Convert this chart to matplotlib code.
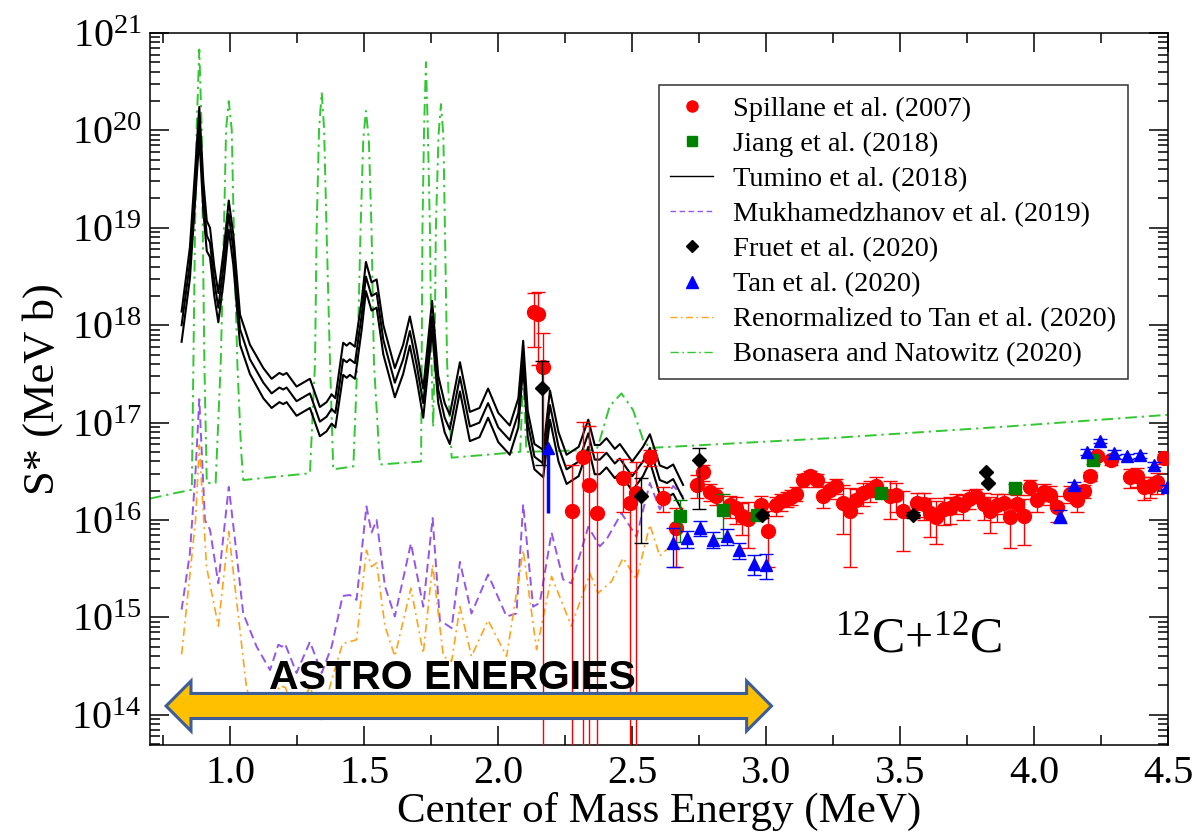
import numpy as np
import matplotlib
matplotlib.use('Agg')
import matplotlib.pyplot as plt
from matplotlib.lines import Line2D
from matplotlib.patches import Polygon
from matplotlib.ticker import FixedLocator, LogLocator, NullFormatter
from matplotlib.transforms import blended_transform_factory

# ---- data ----
# Tumino et al. (2018): central curve and upper / lower bounds, log10(S* / MeV b)
tum_e = [0.818, 0.849, 0.870, 0.884, 0.899, 0.912, 0.924, 0.940, 0.955, 0.976,
         0.994, 1.011, 1.036, 1.073, 1.123, 1.154, 1.183, 1.197, 1.210, 1.247,
         1.297, 1.334, 1.359, 1.378, 1.392, 1.421, 1.434, 1.446, 1.465, 1.490,
         1.506, 1.527, 1.546, 1.571, 1.614, 1.645, 1.670, 1.695, 1.720, 1.753,
         1.776, 1.800, 1.819, 1.857, 1.894, 1.930, 1.962, 2.000, 2.043, 2.075,
         2.093, 2.110, 2.135, 2.168, 2.193, 2.225, 2.255, 2.300, 2.336, 2.360,
         2.379, 2.404, 2.435, 2.454, 2.500, 2.540, 2.566, 2.603, 2.630, 2.653,
         2.690]
tum_mid = [18.00, 18.64, 19.50, 20.08, 19.33, 18.92, 18.85, 18.45, 18.18, 18.64,
           19.14, 18.78, 17.96, 17.65, 17.41, 17.30, 17.36, 17.34, 17.36, 17.22,
           17.30, 17.01, 17.06, 17.14, 17.10, 17.65, 17.62, 17.65, 17.61, 18.10,
           18.50, 18.30, 18.33, 17.85, 17.41, 17.65, 17.94, 17.60, 17.20, 18.09,
           17.34, 17.05, 16.93, 17.47, 16.96, 17.00, 17.20, 16.95, 16.82, 17.10,
           17.70, 17.00, 16.65, 16.58, 17.18, 16.75, 16.52, 16.60, 16.89, 16.62,
           16.62, 16.69, 16.58, 16.63, 16.45, 16.60, 16.74, 16.41, 16.38, 16.42,
           16.22]
tum_hi = [18.14, 18.80, 19.66, 20.24, 19.48, 19.07, 19.00, 18.60, 18.33, 18.79,
          19.28, 18.93, 18.11, 17.80, 17.56, 17.45, 17.51, 17.49, 17.51, 17.37,
          17.45, 17.16, 17.21, 17.29, 17.25, 17.82, 17.79, 17.82, 17.78, 18.25,
          18.65, 18.44, 18.47, 18.00, 17.56, 17.80, 18.09, 17.75, 17.35, 18.25,
          17.48, 17.20, 17.08, 17.62, 17.11, 17.15, 17.35, 17.10, 16.97, 17.25,
          17.84, 17.12, 16.78, 16.72, 17.33, 16.90, 16.67, 16.75, 17.03, 16.77,
          16.77, 16.84, 16.73, 16.78, 16.60, 16.75, 16.88, 16.56, 16.53, 16.57,
          16.36]
tum_lo = [17.83, 18.48, 19.34, 19.93, 19.17, 18.76, 18.70, 18.30, 18.03, 18.48,
          18.98, 18.62, 17.80, 17.50, 17.25, 17.15, 17.21, 17.19, 17.21, 17.07,
          17.15, 16.86, 16.91, 16.99, 16.95, 17.49, 17.46, 17.49, 17.45, 17.95,
          18.35, 18.15, 18.18, 17.70, 17.26, 17.50, 17.79, 17.45, 17.05, 17.95,
          17.20, 16.90, 16.78, 17.32, 16.81, 16.85, 17.05, 16.80, 16.67, 16.95,
          17.58, 16.85, 16.52, 16.44, 17.03, 16.60, 16.37, 16.45, 16.75, 16.47,
          16.47, 16.54, 16.43, 16.48, 16.30, 16.45, 16.60, 16.26, 16.23, 16.27,
          16.08]

# Mukhamedzhanov et al. (2019), log10
muk_e = [0.818, 0.849, 0.870, 0.884, 0.905, 0.924, 0.955, 0.994, 1.017, 1.048,
         1.098, 1.148, 1.179, 1.192, 1.204, 1.247, 1.297, 1.341, 1.378, 1.419,
         1.446, 1.471, 1.508, 1.527, 1.546, 1.577, 1.614, 1.674, 1.720, 1.755,
         1.782, 1.826, 1.857, 1.900, 1.962, 2.031, 2.068, 2.093, 2.130, 2.155,
         2.199, 2.242, 2.273, 2.336, 2.379, 2.404, 2.460, 2.516, 2.566, 2.603,
         2.653, 2.690]
muk_log = [15.08, 15.66, 16.50, 17.24, 16.00, 15.90, 15.35, 16.34, 15.80, 15.04,
           14.70, 14.46, 14.72, 14.70, 14.73, 14.43, 14.75, 14.43, 14.70, 15.22,
           15.23, 15.18, 16.14, 15.87, 16.00, 15.32, 15.01, 15.76, 15.11, 16.02,
           14.97, 14.89, 15.57, 15.04, 15.44, 15.01, 15.04, 16.16, 15.11, 15.15,
           15.87, 15.39, 15.35, 15.93, 15.73, 15.80, 16.07, 15.83, 16.38, 16.11,
           16.35, 16.24]

# Renormalized to Tan et al. (2020), log10
ren_e = [0.818, 0.870, 0.884, 0.911, 0.955, 0.994, 1.017, 1.061, 1.110, 1.148,
         1.185, 1.205, 1.247, 1.297, 1.340, 1.378, 1.419, 1.471, 1.508, 1.527,
         1.546, 1.577, 1.614, 1.674, 1.720, 1.755, 1.795, 1.826, 1.857, 1.900,
         1.962, 2.031, 2.093, 2.143, 2.199, 2.273, 2.342, 2.373, 2.423, 2.466,
         2.516, 2.566, 2.603, 2.653, 2.684]
ren_log = [14.62, 16.00, 16.77, 15.52, 14.91, 15.88, 15.32, 14.26, 14.05, 14.05,
           14.30, 14.28, 14.00, 14.29, 13.95, 14.36, 14.73, 14.77, 15.69, 15.52,
           15.56, 14.91, 14.60, 15.30, 14.63, 15.54, 14.60, 14.55, 15.11, 14.60,
           14.97, 14.60, 15.69, 14.67, 15.42, 14.91, 15.45, 15.25, 15.37, 15.61,
           15.39, 15.95, 15.63, 15.76, 15.70]

# Bonasera and Natowitz (2020), log10
bon_e = [0.700, 0.800, 0.856, 0.862, 0.868, 0.874, 0.884, 0.893, 0.897, 0.903,
         0.912, 0.945, 0.964, 0.976, 0.984, 0.994, 1.005, 1.013, 1.026, 1.040,
         1.048, 1.297, 1.316, 1.322, 1.331, 1.341, 1.350, 1.359, 1.372, 1.384,
         1.459, 1.474, 1.486, 1.496, 1.506, 1.517, 1.527, 1.536, 1.558, 1.712,
         1.717, 1.723, 1.730, 1.737, 1.745, 1.751, 1.757, 1.762, 1.767, 1.777,
         1.786, 1.795, 1.801, 1.809, 1.826, 2.000, 2.082, 2.093, 2.105, 2.367,
         2.379, 2.416, 2.460, 2.503, 2.541, 2.566, 3.237, 3.900, 4.500]
bon_log = [16.22, 16.28, 16.31, 17.61, 18.98, 20.01, 20.83, 20.01, 18.98, 17.61,
           16.38, 16.38, 17.61, 18.98, 20.01, 20.30, 20.01, 18.98, 17.61, 16.72,
           16.41, 16.48, 17.61, 18.98, 20.01, 20.39, 20.01, 18.98, 17.61, 16.52,
           16.55, 17.61, 18.98, 19.90, 20.20, 19.90, 18.98, 17.61, 16.57, 16.60,
           18.98, 20.01, 20.70, 20.01, 18.98, 17.61, 16.95, 17.61, 18.98, 19.95,
           20.27, 19.95, 18.98, 17.61, 16.64, 16.68, 16.70, 17.50, 16.70, 16.72,
           16.82, 17.17, 17.30, 17.13, 16.82, 16.74, 16.84, 16.96, 17.08]

# Spillane et al. (2007), S* in units of 1e16 MeV b
sp_e = [2.133, 2.150, 2.168, 2.277, 2.315, 2.339, 2.367, 2.466, 2.491, 2.513,
        2.566, 2.615, 2.665, 2.740, 2.765, 2.790, 2.814, 2.864, 2.889, 2.911,
        2.933, 2.982, 3.007, 3.038, 3.057, 3.076, 3.094, 3.113, 3.138, 3.163,
        3.188, 3.212, 3.237, 3.262, 3.287, 3.314, 3.336, 3.361, 3.386, 3.411,
        3.461, 3.486, 3.511, 3.563, 3.588, 3.613, 3.635, 3.662, 3.685, 3.710,
        3.734, 3.759, 3.784, 3.812, 3.837, 3.861, 3.886, 3.909, 3.937, 3.962,
        3.986, 4.011, 4.036, 4.061, 4.086, 4.133, 4.160, 4.185, 4.210, 4.236,
        4.286, 4.360, 4.384, 4.409, 4.434, 4.459, 4.484]
sp_s = [138, 129, 37, 1.23, 4.4, 2.3, 1.17, 2.7, 1.48, 1.9,
        4.4, 1.7, 0.83, 2.3, 3.1, 1.95, 1.78, 1.41, 1.32, 1.10,
        1.02, 1.41, 0.78, 1.41, 1.55, 1.66, 1.74, 1.86, 2.57, 2.80,
        2.57, 1.78, 2.04, 2.24, 1.51, 1.23, 1.62, 1.90, 2.04, 2.24,
        1.78, 1.82, 1.23, 1.48, 1.45, 1.17, 1.07, 1.29, 1.32, 1.51,
        1.41, 1.66, 1.78, 1.45, 1.23, 1.41, 1.51, 1.07, 1.45, 1.10,
        2.19, 1.62, 1.95, 1.82, 1.35, 1.86, 1.62, 2.00, 2.80, 4.50,
        4.10, 2.75, 2.80, 2.19, 2.24, 2.45, 4.30]
sp_err = [78, 90, 46, 2.4, 5.8, 7.0, 3.8, 1.5, 1.6, 2.0,
          0.8, 0.5, 0.5, 0.6, 0.6, 0.4, 0.35, 0.35, 0.4, 0.4,
          0.5, 0.35, 0.45, 0.3, 0.3, 0.3, 0.3, 0.3, 0.4, 0.4,
          0.4, 0.45, 0.4, 0.4, 0.8, 0.9, 0.45, 0.5, 0.5, 0.5,
          0.75, 0.6, 0.75, 0.4, 0.45, 0.5, 0.5, 0.4, 0.4, 0.35,
          0.4, 0.35, 0.3, 0.45, 0.5, 0.45, 0.35, 0.55, 0.35, 0.55,
          0.4, 0.4, 0.4, 0.4, 0.4, 0.35, 0.4, 0.3, 0.3, 0.4,
          0.45, 0.6, 0.6, 0.6, 0.55, 0.6, 0.5]

# Jiang et al. (2018), 1e16 MeV b
ji_e = [2.680, 2.839, 2.964, 3.430, 3.928, 4.220]
ji_s = [1.10, 1.26, 1.12, 1.90, 2.14, 4.10]
ji_err = [0.50, 0.60, 0.10, 0.15, 0.20, 0.35]

# Fruet et al. (2020), 1e16 MeV b (asymmetric errors)
fr_e = [2.165, 2.531, 2.750, 2.985, 3.548, 3.819, 3.828]
fr_s = [22.4, 1.78, 4.1, 1.12, 1.12, 3.1, 2.4]
fr_lo = [18.7, 1.2, 2.8, 0.08, 0.08, 0.0, 0.0]
fr_hi = [20.0, 0.92, 1.4, 0.08, 0.08, 0.0, 0.0]

# Tan et al. (2020), 1e16 MeV b
tan_e = [2.653, 2.705, 2.752, 2.800, 2.852, 2.899, 2.954, 3.000, 4.098,
         4.148, 4.198, 4.248, 4.297, 4.347, 4.397, 4.447, 4.496]
tan_s = [0.58, 0.65, 0.83, 0.63, 0.68, 0.49, 0.355, 0.347, 1.10,
         2.29, 5.0, 6.5, 4.9, 4.5, 4.6, 3.7, 2.19]
tan_err = [0.25, 0.13, 0.14, 0.12, 0.12, 0.09, 0.085, 0.10, 0.16,
           0.15, 0.3, 0.3, 0.3, 0.25, 0.25, 0.2, 0.12]
# Tan et al. lower limit (arrow)
tan_lim_e = [2.186]
tan_lim_top = [5.5]
tan_lim_bottom = [1.17]

x_ticks = [1.0, 1.5, 2.0, 2.5, 3.0, 3.5, 4.0, 4.5]
x_minor = [0.75, 1.25, 1.75, 2.25, 2.75, 3.25, 3.75, 4.25]
y_ticks = [1e14, 1e15, 1e16, 1e17, 1e18, 1e19, 1e20, 1e21]
ASTRO_RANGE = (0.76, 3.02)   # MeV
UNIT = 1e16

labels = ['Spillane et al. (2007)', 'Jiang et al. (2018)', 'Tumino et al. (2018)',
          'Mukhamedzhanov et al. (2019)', 'Fruet et al. (2020)', 'Tan et al. (2020)',
          'Renormalized to Tan et al. (2020)', 'Bonasera and Natowitz (2020)']


def pw(logs):
    return [10.0 ** v for v in logs]


def sc(vals):
    return [v * UNIT for v in vals]


def main():
    plt.rcParams['font.family'] = ['Liberation Serif', 'DejaVu Serif']
    plt.rcParams['mathtext.fontset'] = 'custom'
    plt.rcParams['mathtext.rm'] = 'Liberation Serif'
    plt.rcParams['mathtext.it'] = 'Liberation Serif:italic'

    fig = plt.figure(figsize=(11.99, 8.34), dpi=100)
    ax = fig.add_axes([150 / 1199, 89 / 834, 1018 / 1199, 712 / 834])
    ax.set_yscale('log')

    green = '#33c733'
    purple = '#9257e8'
    orange = '#ffa31a'

    ax.plot(bon_e, pw(bon_log), color=green, lw=1.4, dashes=(6, 2.5, 1.2, 2.5), zorder=2)
    ax.plot(muk_e, pw(muk_log), color=purple, lw=1.4, dashes=(4.5, 2.5), zorder=2)
    ax.plot(ren_e, pw(ren_log), color=orange, lw=1.2, dashes=(5, 2.5, 1.2, 2.5), zorder=2)
    for arr in (tum_hi, tum_mid, tum_lo):
        ax.plot(tum_e, pw(arr), color='black', lw=1.5, zorder=3)

    ax.errorbar(sp_e, sc(sp_s), yerr=sc(sp_err), fmt='o', color='red', ms=10,
                ecolor='red', elinewidth=1.0, capsize=5, capthick=1.0, zorder=5)
    ax.errorbar(ji_e, sc(ji_s), yerr=sc(ji_err), fmt='s', color='green', ms=8,
                ecolor='green', elinewidth=1.0, capsize=5, capthick=1.0, zorder=6)
    ax.errorbar(fr_e, sc(fr_s), yerr=[sc(fr_lo), sc(fr_hi)], fmt='D', color='black',
                ms=7, ecolor='black', elinewidth=1.0, capsize=5, capthick=1.0, zorder=6)
    ax.errorbar(tan_e, sc(tan_s), yerr=sc(tan_err), fmt='^', color='blue', ms=9,
                ecolor='blue', elinewidth=1.0, capsize=5, capthick=1.0, zorder=6)
    lim_lo = [t - b for t, b in zip(tan_lim_top, tan_lim_bottom)]
    ax.errorbar(tan_lim_e, sc(tan_lim_top), yerr=[sc(lim_lo), [0]], fmt='^',
                color='blue', ms=9, ecolor='blue', elinewidth=2.5, capsize=0, zorder=6)

    ax.set_xlim(0.7, 4.5)
    ax.set_ylim(10 ** 13.69, 1e21)
    ax.xaxis.set_major_locator(FixedLocator(x_ticks))
    ax.xaxis.set_minor_locator(FixedLocator(x_minor))
    ax.xaxis.set_minor_formatter(NullFormatter())
    ax.yaxis.set_major_locator(FixedLocator(y_ticks))
    ax.yaxis.set_minor_locator(LogLocator(base=10, subs=np.arange(2, 10), numticks=200))
    ax.yaxis.set_minor_formatter(NullFormatter())
    ax.tick_params(which='both', direction='in', top=True, right=True, width=1.1)
    ax.tick_params(which='major', length=14, labelsize=29)
    ax.tick_params(which='minor', length=7.5)
    ax.tick_params(axis='y', which='major', pad=6)
    ax.tick_params(axis='x', which='major', pad=7)
    for s in ax.spines.values():
        s.set_linewidth(1.1)

    ax.set_xlabel('Center of Mass Energy (MeV)', fontsize=31, labelpad=0)
    ax.set_ylabel('S* (MeV b)', fontsize=32, labelpad=6)

    handles = [
        Line2D([], [], ls='none', marker='o', color='red', ms=8),
        Line2D([], [], ls='none', marker='s', color='green', ms=7),
        Line2D([], [], color='black', lw=1.0),
        Line2D([], [], color=purple, lw=1.0, dashes=(4, 2.5)),
        Line2D([], [], ls='none', marker='D', color='black', ms=6),
        Line2D([], [], ls='none', marker='^', color='blue', ms=8),
        Line2D([], [], color=orange, lw=1.0, dashes=(5, 2.5, 1.2, 2.5)),
        Line2D([], [], color=green, lw=1.0, dashes=(6, 2.5, 1.2, 2.5)),
    ]
    leg = ax.legend(handles, labels, loc='upper left', bbox_to_anchor=(0.5, 0.927),
                    fontsize=20.5, frameon=True, fancybox=False, framealpha=1,
                    edgecolor='#333333', handlelength=1.5, handletextpad=0.7,
                    labelspacing=0.32, borderpad=0.4, borderaxespad=0)
    leg.get_frame().set_linewidth(1.1)

    ax.text(0.673, 0.1306, '$^{12}$C+$^{12}$C', transform=ax.transAxes,
            fontsize=36, ha='left', va='baseline')

    # ASTRO ENERGIES double arrow
    tr = blended_transform_factory(ax.transData, ax.transAxes)
    x0, x1 = ASTRO_RANGE
    head = 0.093
    yc, hh, sh = 0.0548, 0.0351, 0.0176
    verts = [(x0, yc), (x0 + head, yc + hh), (x0 + head, yc + sh), (x1 - head, yc + sh),
             (x1 - head, yc + hh), (x1, yc), (x1 - head, yc - hh), (x1 - head, yc - sh),
             (x0 + head, yc - sh), (x0 + head, yc - hh)]
    ax.add_patch(Polygon(verts, closed=True, transform=tr, facecolor='#ffc000',
                         edgecolor='#3b5e9a', lw=2.2, zorder=8, clip_on=False))
    ax.text(1.83, 0.0787, 'ASTRO ENERGIES', transform=tr, family='Liberation Sans',
            weight='bold', fontsize=29.5, ha='center', va='baseline', zorder=9)

    fig.savefig('out.png', dpi=100)


if __name__ == '__main__':
    main()
